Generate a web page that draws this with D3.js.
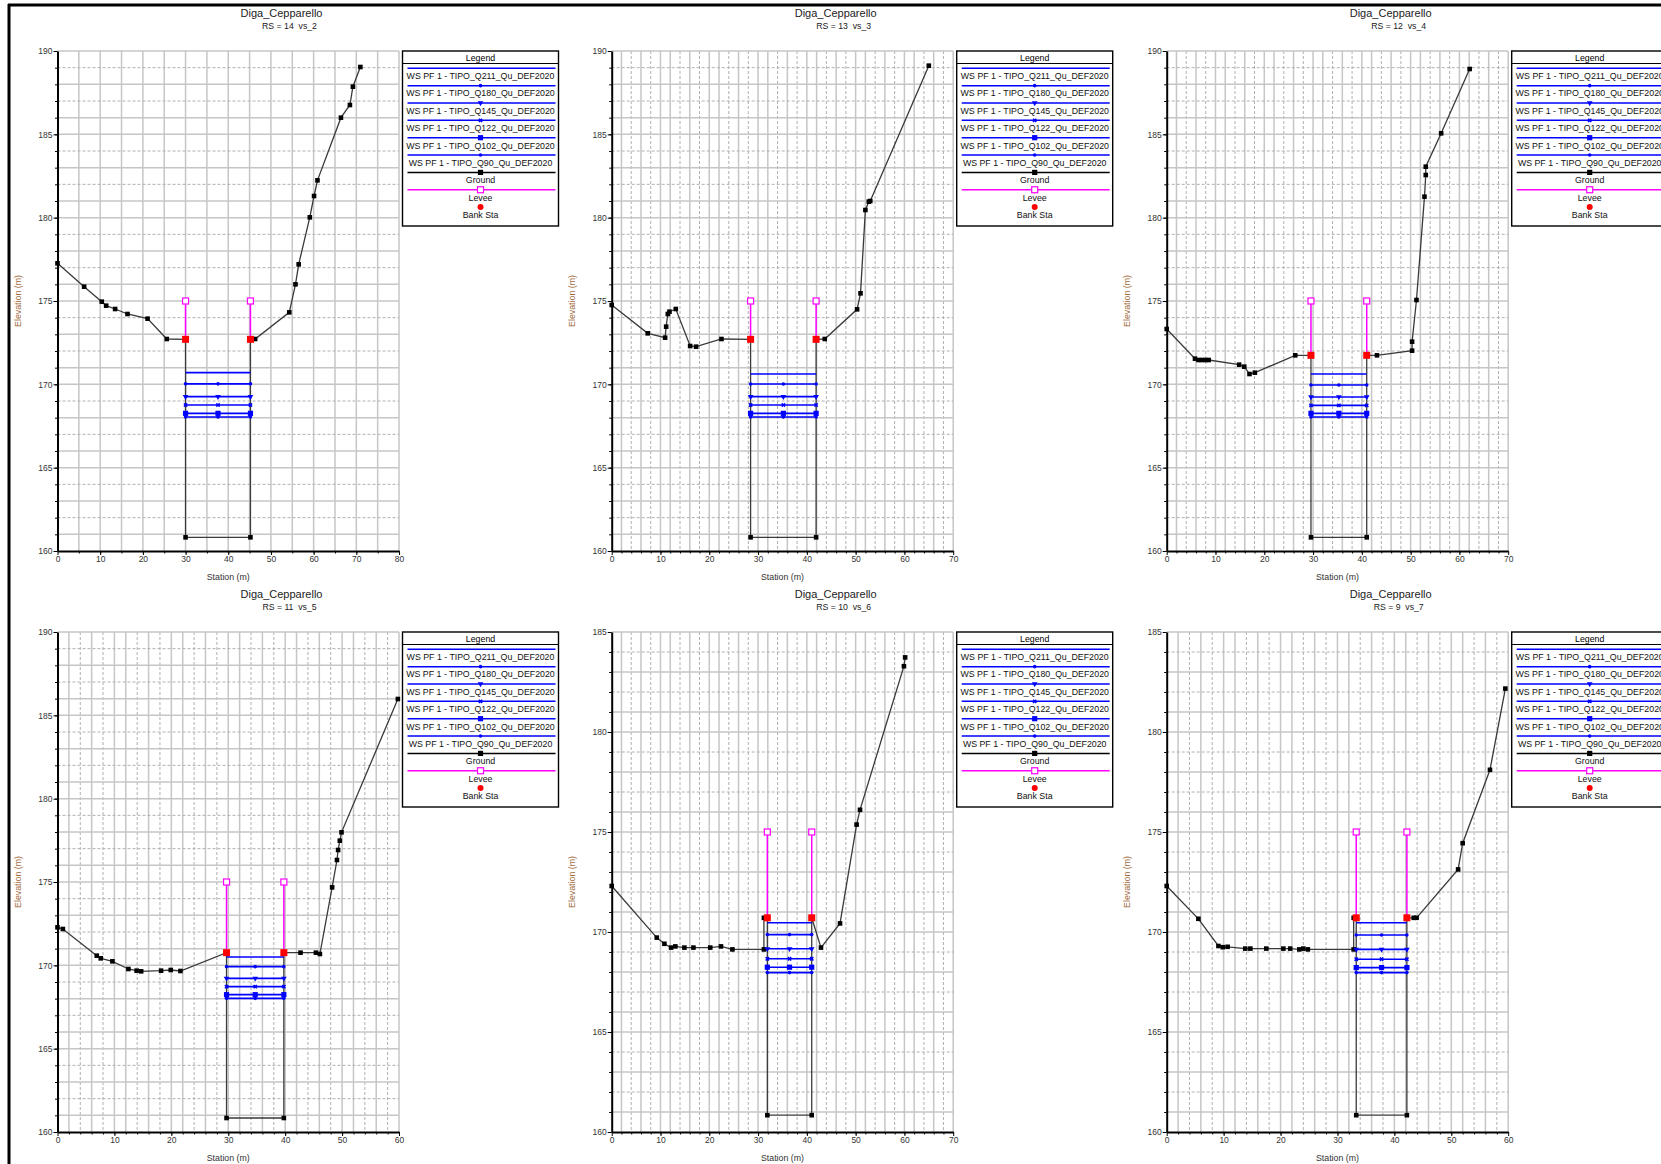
<!DOCTYPE html>
<html><head><meta charset="utf-8">
<script src="https://cdnjs.cloudflare.com/ajax/libs/d3/7.8.5/d3.min.js"></script>
<style>
body{margin:0;background:#fff;}
svg{display:block;font-family:"Liberation Sans",Arial,sans-serif;}
</style></head><body>
<svg id="c" width="1661" height="1164"></svg>
<script>
// ---------------- DATA ----------------
const chartTitle = "Diga_Cepparello";
const sectionLabels = ["RS = 14  vs_2", "RS = 13  vs_3", "RS = 12  vs_4", "RS = 11  vs_5", "RS = 10  vs_6", "RS = 9  vs_7"];
const xMaxes = [80, 70, 70, 60, 70, 60];
const yMaxes = [190, 190, 190, 190, 185, 185];
const yMin = 160;
const gridSteps = [5, 2, 2, 2, 2, 2];

const profileNames = [
  "WS PF 1 - TIPO_Q211_Qu_DEF2020", "WS PF 1 - TIPO_Q180_Qu_DEF2020", "WS PF 1 - TIPO_Q145_Qu_DEF2020",
  "WS PF 1 - TIPO_Q122_Qu_DEF2020", "WS PF 1 - TIPO_Q102_Qu_DEF2020", "WS PF 1 - TIPO_Q90_Qu_DEF2020"];

const ground14 = [[0,177.26],[6.24,175.86],[10.37,174.96],[11.4,174.72],[13.5,174.52],[16.4,174.22],[21.1,173.94],[25.6,172.72],[30,172.7],[30,160.82],[45.2,160.82],[45.2,172.7],[46.3,172.72],[54.3,174.32],[55.75,176.0],[56.5,177.2],[59.1,180.02],[60.1,181.3],[60.9,182.24],[66.4,186.0],[68.5,186.76],[69.2,187.86],[70.95,189.04]];
const ground13 = [[0,174.76],[7.39,173.06],[10.95,172.8],[11.16,173.46],[11.5,174.22],[11.84,174.36],[13.14,174.52],[16.08,172.3],[17.3,172.26],[22.5,172.72],[28.47,172.7],[28.47,160.82],[41.9,160.82],[41.9,172.7],[43.67,172.72],[50.3,174.5],[51.0,175.46],[52.0,180.46],[52.7,180.96],[53.0,181.0],[65.0,189.12]];
const ground12 = [[0,173.32],[5.8,171.54],[6.5,171.46],[7.2,171.46],[7.9,171.46],[8.6,171.46],[14.85,171.18],[15.9,171.06],[16.97,170.62],[18.07,170.70],[26.35,171.74],[29.57,171.74],[29.57,160.82],[41.0,160.82],[41.0,171.74],[43.1,171.74],[50.3,172.02],[50.3,172.56],[51.2,175.06],[52.84,181.26],[53.1,182.56],[53.1,183.06],[56.26,185.06],[62.1,188.92]];
const ground11 = [[0,172.28],[0.94,172.18],[6.9,170.58],[7.6,170.42],[9.65,170.24],[12.46,169.78],[13.9,169.68],[14.7,169.64],[18.2,169.68],[19.9,169.72],[21.6,169.66],[29.7,170.76],[29.7,160.84],[39.77,160.84],[39.77,170.76],[42.7,170.76],[45.4,170.76],[46.1,170.68],[48.25,174.68],[49.1,176.32],[49.3,176.92],[49.6,177.48],[49.9,177.98],[59.8,185.98]];
const ground10 = [[0,172.30],[9.23,169.72],[10.8,169.41],[12.17,169.22],[13.05,169.28],[14.9,169.22],[16.75,169.22],[20.2,169.22],[22.4,169.28],[24.74,169.13],[31.2,169.13],[31.2,170.71],[31.9,170.71],[31.9,160.84],[41.0,160.84],[41.0,170.71],[42.9,169.22],[46.8,170.43],[50.2,175.37],[50.9,176.11],[59.9,183.29],[60.15,183.73]];
const ground9 = [[0,172.30],[5.57,170.66],[9.09,169.30],[9.85,169.24],[10.7,169.26],[13.8,169.17],[14.7,169.17],[17.5,169.17],[20.5,169.17],[21.7,169.17],[23.3,169.13],[24.0,169.17],[24.8,169.13],[32.85,169.13],[32.85,170.71],[33.3,170.71],[33.3,160.84],[42.2,160.84],[42.2,170.71],[43.4,170.71],[43.9,170.71],[51.2,173.13],[52.0,174.44],[56.8,178.11],[59.5,182.17]];

const ws14 = [170.70, 170.03, 169.26, 168.76, 168.26, 168.04];
const ws13 = [170.62, 170.02, 169.26, 168.76, 168.26, 168.04];
const ws12 = [170.62, 169.96, 169.24, 168.74, 168.26, 168.04];
const ws11 = [170.50, 169.92, 169.22, 168.72, 168.24, 168.02];
const ws10 = [170.46, 169.87, 169.16, 168.66, 168.24, 167.97];
const ws9  = [170.46, 169.85, 169.13, 168.64, 168.22, 167.97];

const bankSta = [[30, 45.2], [28.47, 41.9], [29.57, 41.0], [29.7, 39.77], [31.9, 41.0], [33.3, 42.2]];
const bankElev = [172.7, 172.7, 171.74, 170.76, 170.71, 170.71];
const leveeElev = [175, 175, 175, 175, 175, 175];

// ---------------- LAYOUT ----------------
const grounds = [ground14, ground13, ground12, ground11, ground10, ground9];
const wsAll = [ws14, ws13, ws12, ws11, ws10, ws9];
const W = 341.5, H = 500;
const colX = [57.5, 611.7, 1166.7], rowY = [51, 632];
const svg = d3.select('#c');

// outer frame
svg.append('line').attr('x1', 8).attr('x2', 1661).attr('y1', 5).attr('y2', 5).attr('stroke', '#000').attr('stroke-width', 3);
svg.append('line').attr('x1', 9).attr('x2', 9).attr('y1', 4).attr('y2', 1164).attr('stroke', '#000').attr('stroke-width', 3);

// marker drawers
function marker(g, type, cx, cy, color) {
  if (type === 'none') return;
  if (type === 'sq') {
    g.append('rect').attr('x', cx - 2.6).attr('y', cy - 2.6).attr('width', 5.2).attr('height', 5.2).attr('fill', color);
  } else if (type === 'tri') {
    g.append('path').attr('d', d3.symbol(d3.symbolTriangle, 14)()).attr('transform', `translate(${cx},${cy}) rotate(180)`).attr('fill', color);
  } else if (type === 'dot') {
    g.append('circle').attr('cx', cx).attr('cy', cy).attr('r', 1.8).attr('fill', color);
  } else if (type === 'x') {
    g.append('path').attr('d', d3.symbol(d3.symbolCross, 12)()).attr('transform', `translate(${cx},${cy}) rotate(45)`).attr('fill', color);
  }
}
const wsMarkers = ['none', 'dot', 'tri', 'x', 'sq', 'dot'];

for (let i = 0; i < 6; i++) {
  const left = colX[i % 3], top = rowY[Math.floor(i / 3)];
  const xMax = xMaxes[i], yMax = yMaxes[i];
  const x = d3.scaleLinear().domain([0, xMax]).range([left, left + W]);
  const y = d3.scaleLinear().domain([yMin, yMax]).range([top + H, top]);
  const g = svg.append('g');

  // grid
  const grid = g.append('g');
  const step = gridSteps[i];
  d3.range(step, xMax + 0.001, step).forEach(v => {
    const k = Math.round(v / step);
    const solid = step === 5 ? true : [0, 1, 3].includes(k % 5);
    grid.append('line').attr('x1', x(v)).attr('x2', x(v)).attr('y1', top).attr('y2', top + H)
      .attr('stroke', solid ? '#c6c6c6' : '#b0b0b0').attr('stroke-width', solid ? 1.5 : 1)
      .attr('stroke-dasharray', solid ? null : '3,2');
  });
  d3.range(yMin + 1, yMax + 0.001, 1).forEach(v => {
    const k = Math.round(v - yMin);
    const solid = [0, 1, 3].includes(k % 5);
    grid.append('line').attr('x1', left).attr('x2', left + W).attr('y1', y(v)).attr('y2', y(v))
      .attr('stroke', solid ? '#c6c6c6' : '#b0b0b0').attr('stroke-width', solid ? 1.5 : 1)
      .attr('stroke-dasharray', solid ? null : '3,2');
  });

  // ground
  const gr = grounds[i];
  g.append('path').datum(gr).attr('d', d3.line().x(d => x(d[0])).y(d => y(d[1])))
    .attr('fill', 'none').attr('stroke', '#3a3a3a').attr('stroke-width', 1.3);
  gr.forEach(d => g.append('rect').attr('x', x(d[0]) - 2.3).attr('y', y(d[1]) - 2.3).attr('width', 4.6).attr('height', 4.6).attr('fill', '#000'));

  // water surfaces
  const [b1, b2] = bankSta[i];
  wsAll[i].forEach((e, j) => {
    g.append('line').attr('x1', x(b1)).attr('x2', x(b2)).attr('y1', y(e)).attr('y2', y(e))
      .attr('stroke', '#0000ff').attr('stroke-width', 1.6);
    [b1, (b1 + b2) / 2, b2].forEach(s => marker(g, wsMarkers[j], x(s), y(e), '#0000ff'));
  });

  // levees
  [b1, b2].forEach(s => {
    g.append('line').attr('x1', x(s)).attr('x2', x(s)).attr('y1', y(bankElev[i])).attr('y2', y(leveeElev[i]))
      .attr('stroke', '#ff00ff').attr('stroke-width', 1.5);
    g.append('rect').attr('x', x(s) - 3).attr('y', y(leveeElev[i]) - 3).attr('width', 6).attr('height', 6)
      .attr('fill', '#fff').attr('stroke', '#ff00ff').attr('stroke-width', 1.2);
  });
  // bank stations
  [b1, b2].forEach(s => {
    g.append('rect').attr('x', x(s) - 3.5).attr('y', y(bankElev[i]) - 3.5).attr('width', 7).attr('height', 7).attr('fill', '#ff0000');
  });

  // axes
  const fmt = d3.format('d');
  const ax = g.append('g').attr('transform', `translate(${left},0)`)
    .call(d3.axisLeft(y).tickValues(d3.range(yMin, yMax + 0.1, 5)).tickSize(4).tickSizeOuter(0).tickPadding(1).tickFormat(fmt));
  g.append('g').attr('transform', `translate(${left},0)`)
    .call(d3.axisLeft(y).tickValues(d3.range(yMin + 1, yMax, 1)).tickSize(2.5).tickSizeOuter(0).tickFormat(''))
    .select('.domain').remove();
  const bx = g.append('g').attr('transform', `translate(0,${top + H})`)
    .call(d3.axisBottom(x).tickValues(d3.range(0, xMax + 0.1, 10)).tickSize(4).tickSizeOuter(0).tickPadding(1).tickFormat(fmt));
  g.append('g').attr('transform', `translate(0,${top + H})`)
    .call(d3.axisBottom(x).tickValues(d3.range(step, xMax, step)).tickSize(2.5).tickSizeOuter(0).tickFormat(''))
    .select('.domain').remove();
  g.selectAll('.domain').attr('stroke', '#000').attr('stroke-width', 2);
  g.selectAll('.tick line').attr('stroke', '#000').attr('stroke-width', 1);
  g.selectAll('.tick text').attr('font-size', 8.5).attr('fill', '#333').attr('font-family', '"Liberation Sans",Arial,sans-serif');

  // titles
  g.append('text').attr('x', left + 224).attr('y', top - 34).attr('text-anchor', 'middle')
    .attr('font-size', 11).attr('fill', '#222').text(chartTitle);
  g.append('text').attr('x', left + 232).attr('y', top - 22).attr('text-anchor', 'middle')
    .attr('font-size', 8.7).attr('fill', '#222').style('white-space', 'pre').text(sectionLabels[i]);
  g.append('text').attr('x', left + W / 2).attr('y', top + H + 29).attr('text-anchor', 'middle')
    .attr('font-size', 8.8).attr('fill', '#333').text('Station (m)');
  g.append('text').attr('transform', `translate(${left - 37},${top + H / 2}) rotate(-90)`).attr('text-anchor', 'middle')
    .attr('font-size', 8.8).attr('fill', '#a06a3a').text('Elevation (m)');

  // legend
  const lx = left + W + 3.5, ly = top, lw = 156, lh = 175;
  const lg = g.append('g');
  lg.append('rect').attr('x', lx).attr('y', ly).attr('width', lw).attr('height', lh)
    .attr('fill', '#fff').attr('stroke', '#000').attr('stroke-width', 1.4);
  const cx = lx + lw / 2;
  lg.append('text').attr('x', cx).attr('y', ly + 9.5).attr('text-anchor', 'middle').attr('font-size', 8.8).attr('fill', '#000').text('Legend');
  lg.append('line').attr('x1', lx).attr('x2', lx + lw).attr('y1', ly + 12.5).attr('y2', ly + 12.5).attr('stroke', '#000').attr('stroke-width', 1);
  const items = profileNames.map((n, j) => ({ name: n, color: '#0000ff', mk: wsMarkers[j], line: true }))
    .concat([{ name: 'Ground', color: '#000', mk: 'sq', line: true },
             { name: 'Levee', color: '#ff00ff', mk: 'hollow', line: true },
             { name: 'Bank Sta', color: '#ff0000', mk: 'circle', line: false }]);
  items.forEach((it, j) => {
    const yy = ly + 17.3 + 17.35 * j;
    if (it.line) lg.append('line').attr('x1', lx + 5).attr('x2', lx + lw - 3).attr('y1', yy).attr('y2', yy)
      .attr('stroke', it.color).attr('stroke-width', 1.5);
    if (it.mk === 'hollow') {
      lg.append('rect').attr('x', cx - 3).attr('y', yy - 3).attr('width', 6).attr('height', 6).attr('fill', '#fff').attr('stroke', it.color).attr('stroke-width', 1.2);
    } else if (it.mk === 'circle') {
      lg.append('circle').attr('cx', cx).attr('cy', yy).attr('r', 3).attr('fill', it.color);
    } else marker(lg, it.mk, cx, yy, it.color);
    lg.append('text').attr('x', cx).attr('y', yy + 10.8).attr('text-anchor', 'middle').attr('font-size', 8.8).attr('fill', '#111').text(it.name);
  });
}
</script></body></html>
